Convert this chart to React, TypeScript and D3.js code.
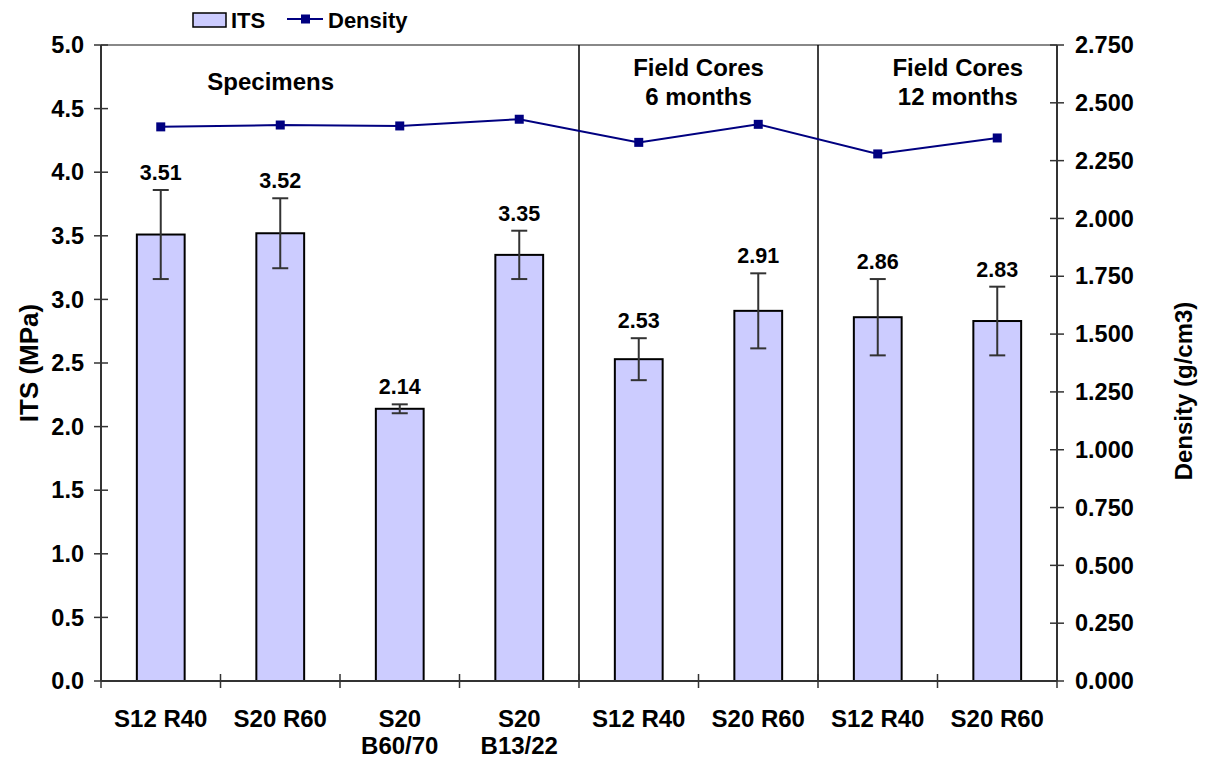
import React from "react";
import * as d3 from "d3";

const width = 1211;
const height = 763;
const margin = { top: 45, right: 154, bottom: 82, left: 101 };

const categories = [
  ["S12 R40"],
  ["S20 R60"],
  ["S20", "B60/70"],
  ["S20", "B13/22"],
  ["S12 R40"],
  ["S20 R60"],
  ["S12 R40"],
  ["S20 R60"],
];
const itsValues = [3.51, 3.52, 2.14, 3.35, 2.53, 2.91, 2.86, 2.83];
const itsErrors = [0.35, 0.275, 0.035, 0.19, 0.165, 0.295, 0.3, 0.27];
const densityValues = [2.396, 2.404, 2.4, 2.429, 2.329, 2.407, 2.279, 2.348];
const leftTicks = [0, 0.5, 1, 1.5, 2, 2.5, 3, 3.5, 4, 4.5, 5];
const rightTicks = [0, 0.25, 0.5, 0.75, 1, 1.25, 1.5, 1.75, 2, 2.25, 2.5, 2.75];
// groups: label lines and the category range they cover
const groups = [
  { start: 0, end: 4, lines: ["Specimens"], centerShift: -0.58 },
  { start: 4, end: 6, lines: ["Field Cores", "6 months"], centerShift: 0 },
  { start: 6, end: 8, lines: ["Field Cores", "12 months"], centerShift: 0.17 },
];

const font = "'Liberation Sans', Arial, sans-serif";
const barFill = "#ccccff";
const lineColor = "#000080";

const App = () => {
  const x = d3
    .scaleBand<number>()
    .domain(d3.range(categories.length))
    .range([margin.left, width - margin.right])
    .paddingInner(0.6)
    .paddingOuter(0.3);
  const step = x.step();
  const x0 = margin.left;
  const yL = d3.scaleLinear().domain([0, 5]).range([height - margin.bottom, margin.top]);
  const yR = d3.scaleLinear().domain([0, 2.75]).range([height - margin.bottom, margin.top]);
  const cx = (i: number) => (x(i) as number) + x.bandwidth() / 2;
  const bottom = height - margin.bottom;
  const right = width - margin.right;

  const line = d3
    .line<number>()
    .x((_, i) => cx(i))
    .y((d) => yR(d));

  return (
    <svg width={width} height={height} style={{ position: "absolute", left: 0, top: 0 }}>
      <rect width={width} height={height} fill="#fff" />
      {/* plot border top */}
      <line x1={x0} x2={right} y1={margin.top} y2={margin.top} stroke="#888" strokeWidth={2} />

      {/* group separators */}
      {groups.slice(1).map((g, i) => (
        <line key={i} x1={x0 + g.start * step} x2={x0 + g.start * step} y1={margin.top} y2={bottom} stroke="#000" strokeWidth={1.5} />
      ))}

      {/* bars */}
      {itsValues.map((v, i) => (
        <rect
          key={i}
          x={x(i)}
          y={yL(v)}
          width={x.bandwidth()}
          height={bottom - yL(v)}
          fill={barFill}
          stroke="#000"
          strokeWidth={2}
        />
      ))}

      {/* error bars */}
      {itsValues.map((v, i) => {
        const t = yL(v + itsErrors[i]);
        const b = yL(v - itsErrors[i]);
        const c = cx(i);
        return (
          <g key={i} stroke="#333" strokeWidth={2}>
            <line x1={c} x2={c} y1={t} y2={b} />
            <line x1={c - 8} x2={c + 8} y1={t} y2={t} />
            <line x1={c - 8} x2={c + 8} y1={b} y2={b} />
          </g>
        );
      })}

      {/* value labels */}
      {itsValues.map((v, i) => (
        <text
          key={i}
          x={cx(i)}
          y={yL(v + itsErrors[i]) - 10}
          textAnchor="middle"
          fontFamily={font}
          fontWeight="bold"
          fontSize={21.5}
        >
          {v.toFixed(2)}
        </text>
      ))}

      {/* density line */}
      <path d={line(densityValues) || ""} fill="none" stroke={lineColor} strokeWidth={2} />
      {densityValues.map((d, i) => (
        <rect key={i} x={cx(i) - 4.5} y={yR(d) - 4.5} width={9} height={9} fill={lineColor} />
      ))}

      {/* left axis */}
      <line x1={x0} x2={x0} y1={margin.top} y2={bottom} stroke="#333" strokeWidth={2} />
      {leftTicks.map((t) => (
        <g key={t}>
          <line x1={x0 - 7} x2={x0 + 7} y1={yL(t)} y2={yL(t)} stroke="#333" strokeWidth={1.5} />
          <text x={x0 - 17} y={yL(t)} dy="0.35em" textAnchor="end" fontFamily={font} fontWeight="bold" fontSize={23.5}>
            {t.toFixed(1)}
          </text>
        </g>
      ))}

      {/* right axis */}
      <line x1={right} x2={right} y1={margin.top} y2={bottom} stroke="#333" strokeWidth={2} />
      {rightTicks.map((t) => (
        <g key={t}>
          <line x1={right - 7} x2={right + 7} y1={yR(t)} y2={yR(t)} stroke="#333" strokeWidth={1.5} />
          <text x={right + 18} y={yR(t)} dy="0.35em" textAnchor="start" fontFamily={font} fontWeight="bold" fontSize={23.5}>
            {t.toFixed(3)}
          </text>
        </g>
      ))}

      {/* x axis */}
      <line x1={x0} x2={right} y1={bottom} y2={bottom} stroke="#333" strokeWidth={2} />
      {d3.range(categories.length + 1).map((i) => (
        <line key={i} x1={x0 + i * step} x2={x0 + i * step} y1={bottom - 7} y2={bottom + 7} stroke="#333" strokeWidth={1.5} />
      ))}
      {categories.map((lines, i) => (
        <text key={i} x={cx(i)} y={bottom + 46} textAnchor="middle" fontFamily={font} fontWeight="bold" fontSize={24}>
          {lines.map((l, j) => (
            <tspan key={j} x={cx(i)} dy={j === 0 ? 0 : 27}>
              {l}
            </tspan>
          ))}
        </text>
      ))}

      {/* group titles */}
      {groups.map((g, i) => {
        const gx = x0 + ((g.start + g.end) / 2) * step + g.centerShift * step;
        return (
          <text key={i} x={gx} y={i === 0 ? 90 : 76} textAnchor="middle" fontFamily={font} fontWeight="bold" fontSize={24}>
            {g.lines.map((l, j) => (
              <tspan key={j} x={gx} dy={j === 0 ? 0 : 29}>
                {l}
              </tspan>
            ))}
          </text>
        );
      })}

      {/* axis titles */}
      <text
        transform={`translate(38, ${(margin.top + bottom) / 2}) rotate(-90)`}
        textAnchor="middle"
        fontFamily={font}
        fontWeight="bold"
        fontSize={26}
      >
        ITS (MPa)
      </text>
      <text
        transform={`translate(1192, ${(margin.top + bottom) / 2 + 28}) rotate(-90)`}
        textAnchor="middle"
        fontFamily={font}
        fontWeight="bold"
        fontSize={24}
      >
        Density (g/cm3)
      </text>

      {/* legend */}
      <rect x={193} y={13} width={33} height={14} fill={barFill} stroke="#000" strokeWidth={1.5} />
      <text x={231} y={28} fontFamily={font} fontWeight="bold" fontSize={22}>
        ITS
      </text>
      <line x1={287} x2={323} y1={19} y2={19} stroke={lineColor} strokeWidth={2} />
      <rect x={301} y={14.5} width={9} height={9} fill={lineColor} />
      <text x={328} y={28} fontFamily={font} fontWeight="bold" fontSize={22}>
        Density
      </text>
    </svg>
  );
};

export default App;
